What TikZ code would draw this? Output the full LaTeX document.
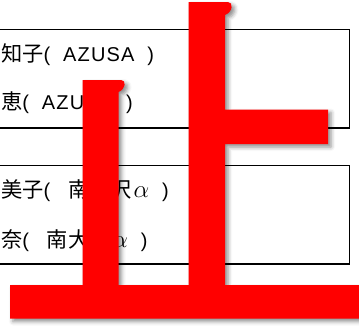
\documentclass[tikz,border=0pt]{standalone}
\usepackage{fontspec}
\setmainfont{Liberation Sans}[LetterSpace=6,WordSpace=1.9]
\newfontfamily\jpfont{Noto Sans CJK JP}[Scale=1.06]
\usetikzlibrary{positioning,shadows.blur}
\definecolor{stopred}{RGB}{255,0,0}
\newcommand{\bigalpha}{{\fontsize{26}{26}\selectfont$\alpha$}}

\begin{document}
\begin{tikzpicture}[x=1pt,y=-1pt]
  % Estilos
  \tikzset{
    box/.style={rectangle,draw,line width=1.2pt,inner sep=0pt},
    lab/.style={inner sep=0pt,anchor=base west,font=\fontsize{20}{24}\selectfont},
    stopmark/.style={fill=stopred,
      blur shadow={shadow xshift=3pt,shadow yshift=-3pt,
                   shadow blur radius=4pt,shadow opacity=45}}
  }
  \useasboundingbox (0,0) rectangle (359,325);
  \clip (0,0) rectangle (359,325);

  %================= CAJAS =================
  \node[box,minimum width=356pt,minimum height=98.5pt] (A-box) at (171.3,78.7) {};
  \node[box,minimum width=356pt,minimum height=98.5pt] (B-box) at (171.3,214.8) {};

  % Textos
  \node[lab] (A-L1) at (1,61)  {{\jpfont 知子}( AZUSA )};
  \node[lab] (A-L2) at (1,109) {{\jpfont 恵}( AZUSA )};
  \node[lab] (B-L1) at (1,197) {{\jpfont 美子}( \hspace{5pt}{\jpfont 南大沢}\hspace{2pt}\bigalpha\ )};
  \node[lab] (B-L2) at (1,247) {{\jpfont 奈}( \hspace{5pt}{\jpfont 南大沢}\hspace{2pt}\bigalpha\ )};

  %================= SIGNO =================
  \path[stopmark] (10,285) -- (82.5,285) -- (82.5,80) -- (121,80)
     .. controls (126.5,80) and (126,89) .. (118.5,92)
     -- (118.5,285) -- (188.5,285) -- (188.5,2) -- (228,2)
     .. controls (233.5,2) and (233,12) .. (225,15)
     -- (225,109.5) -- (328,109.5) -- (328,144) -- (225,144)
     -- (225,285) -- (365,285) -- (365,318.5) -- (10,318.5) -- cycle;

\end{tikzpicture}
\end{document}
